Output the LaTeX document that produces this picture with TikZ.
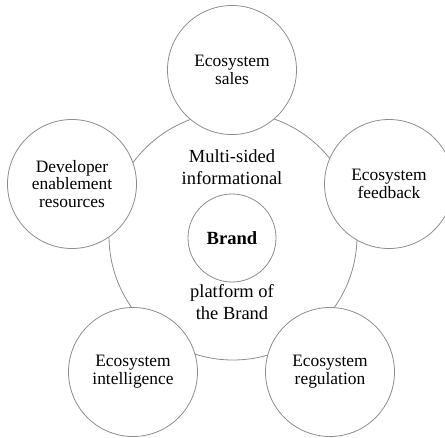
\documentclass[tikz,border=0pt]{standalone}
\usepackage{fontspec}
\setmainfont{Liberation Serif}
\begin{document}
\begin{tikzpicture}[x=1pt,y=-1pt,
  ring/.style={circle,draw=black!45,line width=0.8pt,inner sep=0pt},
  outerring/.style={ring,minimum size=248pt},
  satellite/.style={ring,fill=white,minimum size=129pt,align=center,
    font=\fontsize{17.4}{17.8}\selectfont},
  core/.style={ring,minimum size=88pt,font=\fontsize{18.6}{20}\selectfont\bfseries},
  caption/.style={align=center,font=\fontsize{18.5}{21.5}\selectfont}]
\useasboundingbox (0,0) rectangle (445,437);
\clip (0,0) rectangle (445,437);
% platform ring
\node[outerring] (platform) at (233,236) {};
% satellites around the platform
\node[satellite] (sales) at (232,70) {Ecosystem\\sales};
\node[satellite] (dev) at (72,184) {Developer\\enablement\\resources};
\node[satellite] (feedback) at (389,184) {Ecosystem\\feedback};
\node[satellite] (intel) at (133,372) {Ecosystem\\intelligence};
\node[satellite] (reg) at (330,372) {Ecosystem\\regulation};
% brand at the centre
\node[core] (brand) at (232,238) {Brand};
\node[caption] (top) at (232,167) {Multi-sided\\informational};
\node[caption] (bottom) at (232,302) {platform of\\the Brand};
\end{tikzpicture}
\end{document}
